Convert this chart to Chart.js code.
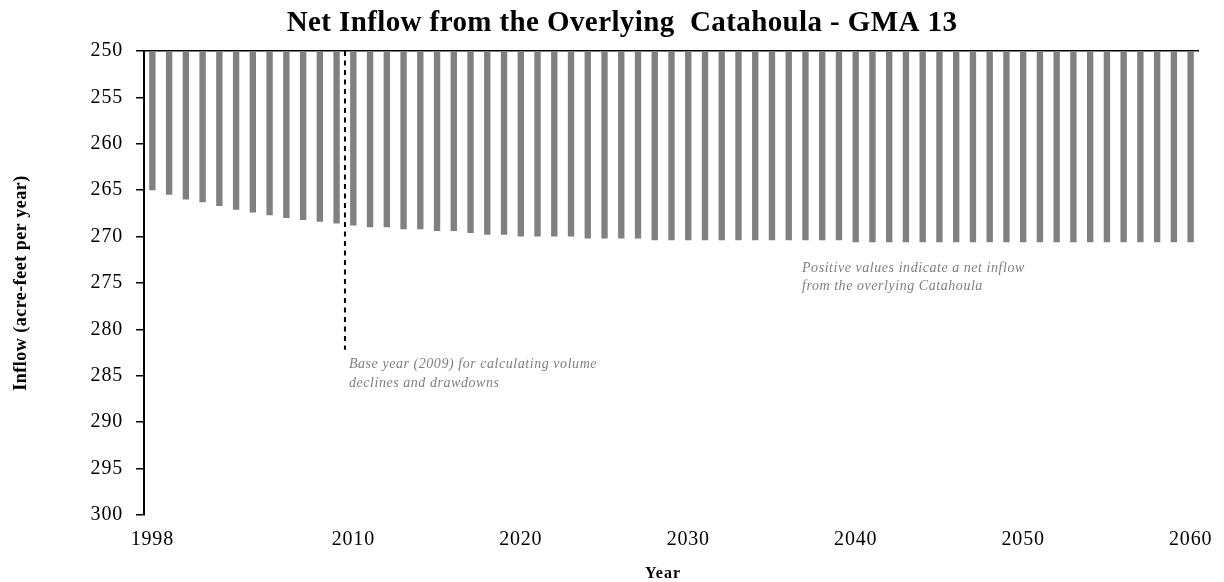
<!DOCTYPE html>
<html>
<head>
<meta charset="utf-8">
<script src="https://cdn.jsdelivr.net/npm/chart.js@4.4.1/dist/chart.umd.min.js"></script>
<style>
  html, body { margin: 0; padding: 0; background: #fff; }
  #wrap { position: relative; width: 1224px; height: 582px; }
</style>
</head>
<body>
<div id="wrap"><canvas id="chart" width="1224" height="582"></canvas></div>
<script>
// Simulation years
const years = [
  '1998','1999','2000','2001','2002','2003','2004','2005','2006','2007',
  '2008','2009','2010','2011','2012','2013','2014','2015','2016','2017',
  '2018','2019','2020','2021','2022','2023','2024','2025','2026','2027',
  '2028','2029','2030','2031','2032','2033','2034','2035','2036','2037',
  '2038','2039','2040','2041','2042','2043','2044','2045','2046','2047',
  '2048','2049','2050','2051','2052','2053','2054','2055','2056','2057',
  '2058','2059','2060'
];

// Net inflow from the overlying Catahoula (acre-feet per year)
const inflow = [
  265.0, 265.5, 266.0, 266.3, 266.7, 267.1, 267.4, 267.7, 268.0, 268.2,
  268.4, 268.6, 268.8, 269.0, 269.0, 269.2, 269.2, 269.4, 269.4, 269.6,
  269.8, 269.8, 270.0, 270.0, 270.0, 270.0, 270.2, 270.2, 270.2, 270.2,
  270.4, 270.4, 270.4, 270.4, 270.4, 270.4, 270.4, 270.4, 270.4, 270.4,
  270.4, 270.4, 270.6, 270.6, 270.6, 270.6, 270.6, 270.6, 270.6, 270.6,
  270.6, 270.6, 270.6, 270.6, 270.6, 270.6, 270.6, 270.6, 270.6, 270.6,
  270.6, 270.6, 270.6
];

// Axis labelling
const xTickLabels = ['1998', '2010', '2020', '2030', '2040', '2050', '2060'];
const yTickValues = [250, 255, 260, 265, 270, 275, 280, 285, 290, 295, 300];

// Base-year marker: drawn between these two years, down to this value
const baseYearBefore = '2009';
const baseYearAfter = '2010';
const baseYearLineEnd = 282.2;

const SERIF = "'Liberation Serif', 'Times New Roman', serif";

const textPlugin = {
  id: 'chartText',
  beforeDraw(chart) {
    chart.ctx.letterSpacing = '0.8px';
  },
  beforeDatasetsDraw(chart) {
    chart.ctx.letterSpacing = '0px';
  },
  afterDatasetsDraw(chart) {
    const { ctx, scales: { x, y } } = chart;
    const xa = x.getPixelForValue(years.indexOf(baseYearBefore));
    const xb = x.getPixelForValue(years.indexOf(baseYearAfter));
    const lx = (xa + xb) / 2;
    ctx.save();
    ctx.strokeStyle = '#000';
    ctx.lineWidth = 2;
    ctx.setLineDash([5, 4.5]);
    ctx.beginPath();
    ctx.moveTo(lx, y.getPixelForValue(250));
    ctx.lineTo(lx, y.getPixelForValue(baseYearLineEnd));
    ctx.stroke();
    ctx.restore();
  },
  afterDraw(chart) {
    const { ctx, scales: { x, y } } = chart;
    ctx.save();
    ctx.fillStyle = '#000';
    ctx.textBaseline = 'alphabetic';

    // Title
    ctx.letterSpacing = '0.4px';
    ctx.font = `bold 29px ${SERIF}`;
    ctx.textAlign = 'center';
    ctx.fillText('Net Inflow from the Overlying  Catahoula - GMA 13', 622, 31);

    // Axis titles
    ctx.letterSpacing = '1px';
    ctx.font = `bold 16px ${SERIF}`;
    ctx.fillText('Year', 663, 578);
    ctx.save();
    ctx.translate(26, (y.top + y.bottom) / 2);
    ctx.rotate(-Math.PI / 2);
    ctx.letterSpacing = '0.5px';
    ctx.font = `bold 18px ${SERIF}`;
    ctx.fillText('Inflow (acre-feet per year)', 0, 0);
    ctx.restore();

    // Notes
    ctx.letterSpacing = '0.55px';
    ctx.fillStyle = '#7f7f7f';
    ctx.font = `italic 14px ${SERIF}`;
    ctx.textAlign = 'left';
    const xa = x.getPixelForValue(years.indexOf(baseYearBefore));
    const xb = x.getPixelForValue(years.indexOf(baseYearAfter));
    const nx = (xa + xb) / 2 + 4;
    ctx.fillText('Base year (2009) for calculating volume', nx, 368);
    ctx.fillText('declines and drawdowns', nx, 387);
    ctx.fillText('Positive values indicate a net inflow', 802, 272);
    ctx.fillText('from the overlying Catahoula', 802, 290);
    ctx.restore();
  }
};

new Chart(document.getElementById('chart'), {
  type: 'bar',
  data: {
    labels: years,
    datasets: [{
      data: inflow,
      backgroundColor: '#808080',
      borderWidth: 0,
      barPercentage: 0.38,
      categoryPercentage: 1.0
    }]
  },
  options: {
    responsive: false,
    animation: false,
    devicePixelRatio: 1,
    layout: { padding: { top: 51, right: 25, bottom: 0, left: 0 } },
    plugins: {
      legend: { display: false },
      tooltip: { enabled: false },
      title: { display: false }
    },
    scales: {
      x: {
        type: 'category',
        offset: true,
        grid: { display: false, drawTicks: false },
        border: { display: false },
        ticks: {
          autoSkip: false,
          maxRotation: 0,
          padding: 13,
          color: '#000',
          font: { family: SERIF, size: 20 },
          callback(value) {
            const label = this.getLabelForValue(value);
            return xTickLabels.includes(label) ? label : '';
          }
        },
        afterFit(scale) { scale.height = 67; }
      },
      y: {
        min: 250,
        max: 300,
        reverse: true,
        afterBuildTicks(scale) { scale.ticks = yTickValues.map(v => ({ value: v })); },
        grid: {
          color: c => (c.tick && c.tick.value === 250) ? '#000' : 'rgba(0,0,0,0)',
          lineWidth: 1.5,
          tickColor: '#000',
          tickLength: 8,
          drawTicks: true
        },
        border: { display: true, color: '#000', width: 2 },
        ticks: {
          padding: 13,
          color: '#000',
          font: { family: SERIF, size: 20 }
        },
        afterFit(scale) { scale.width = 144; }
      }
    }
  },
  plugins: [textPlugin]
});
</script>
</body>
</html>
